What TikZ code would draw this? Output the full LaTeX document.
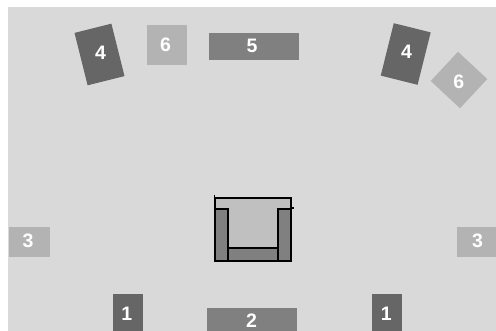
\documentclass[tikz,border=0pt]{standalone}
\usepackage{fontspec}
\setmainfont{Liberation Sans}
\definecolor{roomgray}{HTML}{D9D9D9}
\definecolor{darkgray}{HTML}{666666}
\definecolor{midgray}{HTML}{808080}
\definecolor{lightgray}{HTML}{B3B3B3}
\definecolor{seatgray}{HTML}{C0C0C0}
\tikzset{
    speaker/.style={inner sep=0pt},
    surround/.style={speaker, fill=darkgray},
    center speaker/.style={speaker, fill=midgray},
    side speaker/.style={speaker, fill=lightgray},
    digit/.style={inner sep=0pt, text=white,
                  font=\fontsize{19.5}{20}\selectfont\bfseries},
    chair part/.style={draw=black, line width=1.5pt, inner sep=0pt},
}
\newcommand{\speakerbox}[5][]{
    \node[#1] (#2) at (#3) {};
    \node[digit] (#2num) at (#4) {#5};
}
\begin{document}
\begin{tikzpicture}[x=1pt,y=-1pt]
    \useasboundingbox (0,0) rectangle (496,331);
    \fill[roomgray] (8,7) rectangle (496,331);

    % front row
    \speakerbox[surround, minimum width=30pt, minimum height=40pt]{frontleft}{128,314}{126.8,314}{1}
    \speakerbox[surround, minimum width=30pt, minimum height=40pt]{frontright}{387,314}{386.2,314}{1}
    \speakerbox[center speaker, minimum width=90pt, minimum height=28pt]{frontcenter}{252,322}{251.5,321}{2}

    % sides
    \speakerbox[side speaker, minimum width=41pt, minimum height=30pt]{sideleft}{29.5,242}{28,240.5}{3}
    \speakerbox[side speaker, minimum width=40pt, minimum height=30pt]{sideright}{477,242}{477.5,240.5}{3}

    % back row
    \speakerbox[surround, minimum width=38pt, minimum height=54pt, rotate=14]{backleft}{99.5,54.5}{100.5,52.5}{4}
    \speakerbox[surround, minimum width=38pt, minimum height=54pt, rotate=-14]{backright}{405.7,54}{406.5,52}{4}
    \speakerbox[center speaker, minimum width=90pt, minimum height=27pt]{backcenter}{254,46.5}{252,45.5}{5}
    \speakerbox[side speaker, minimum width=40pt, minimum height=40pt]{topleft}{167,45}{165.5,45}{6}
    \speakerbox[side speaker, minimum width=40pt, minimum height=40pt, rotate=-43]{topright}{459,80}{458.8,82}{6}

    % chair
    \node[chair part, fill=seatgray, minimum width=76pt, minimum height=63pt] (chair) at (253,229.5) {};
    \node[chair part, fill=midgray, minimum width=13pt, minimum height=52pt] (armleft) at (221.5,235) {};
    \node[chair part, fill=midgray, minimum width=13pt, minimum height=52pt] (armright) at (284.5,235) {};
    \node[chair part, fill=midgray, minimum width=50pt, minimum height=13pt] (cushion) at (253,254.5) {};
    \draw[line width=1.5pt] (chair.north west) -- ++(0,-2);
    \draw[line width=1.5pt] (armright.north east) -- ++(2,0);
\end{tikzpicture}
\end{document}
